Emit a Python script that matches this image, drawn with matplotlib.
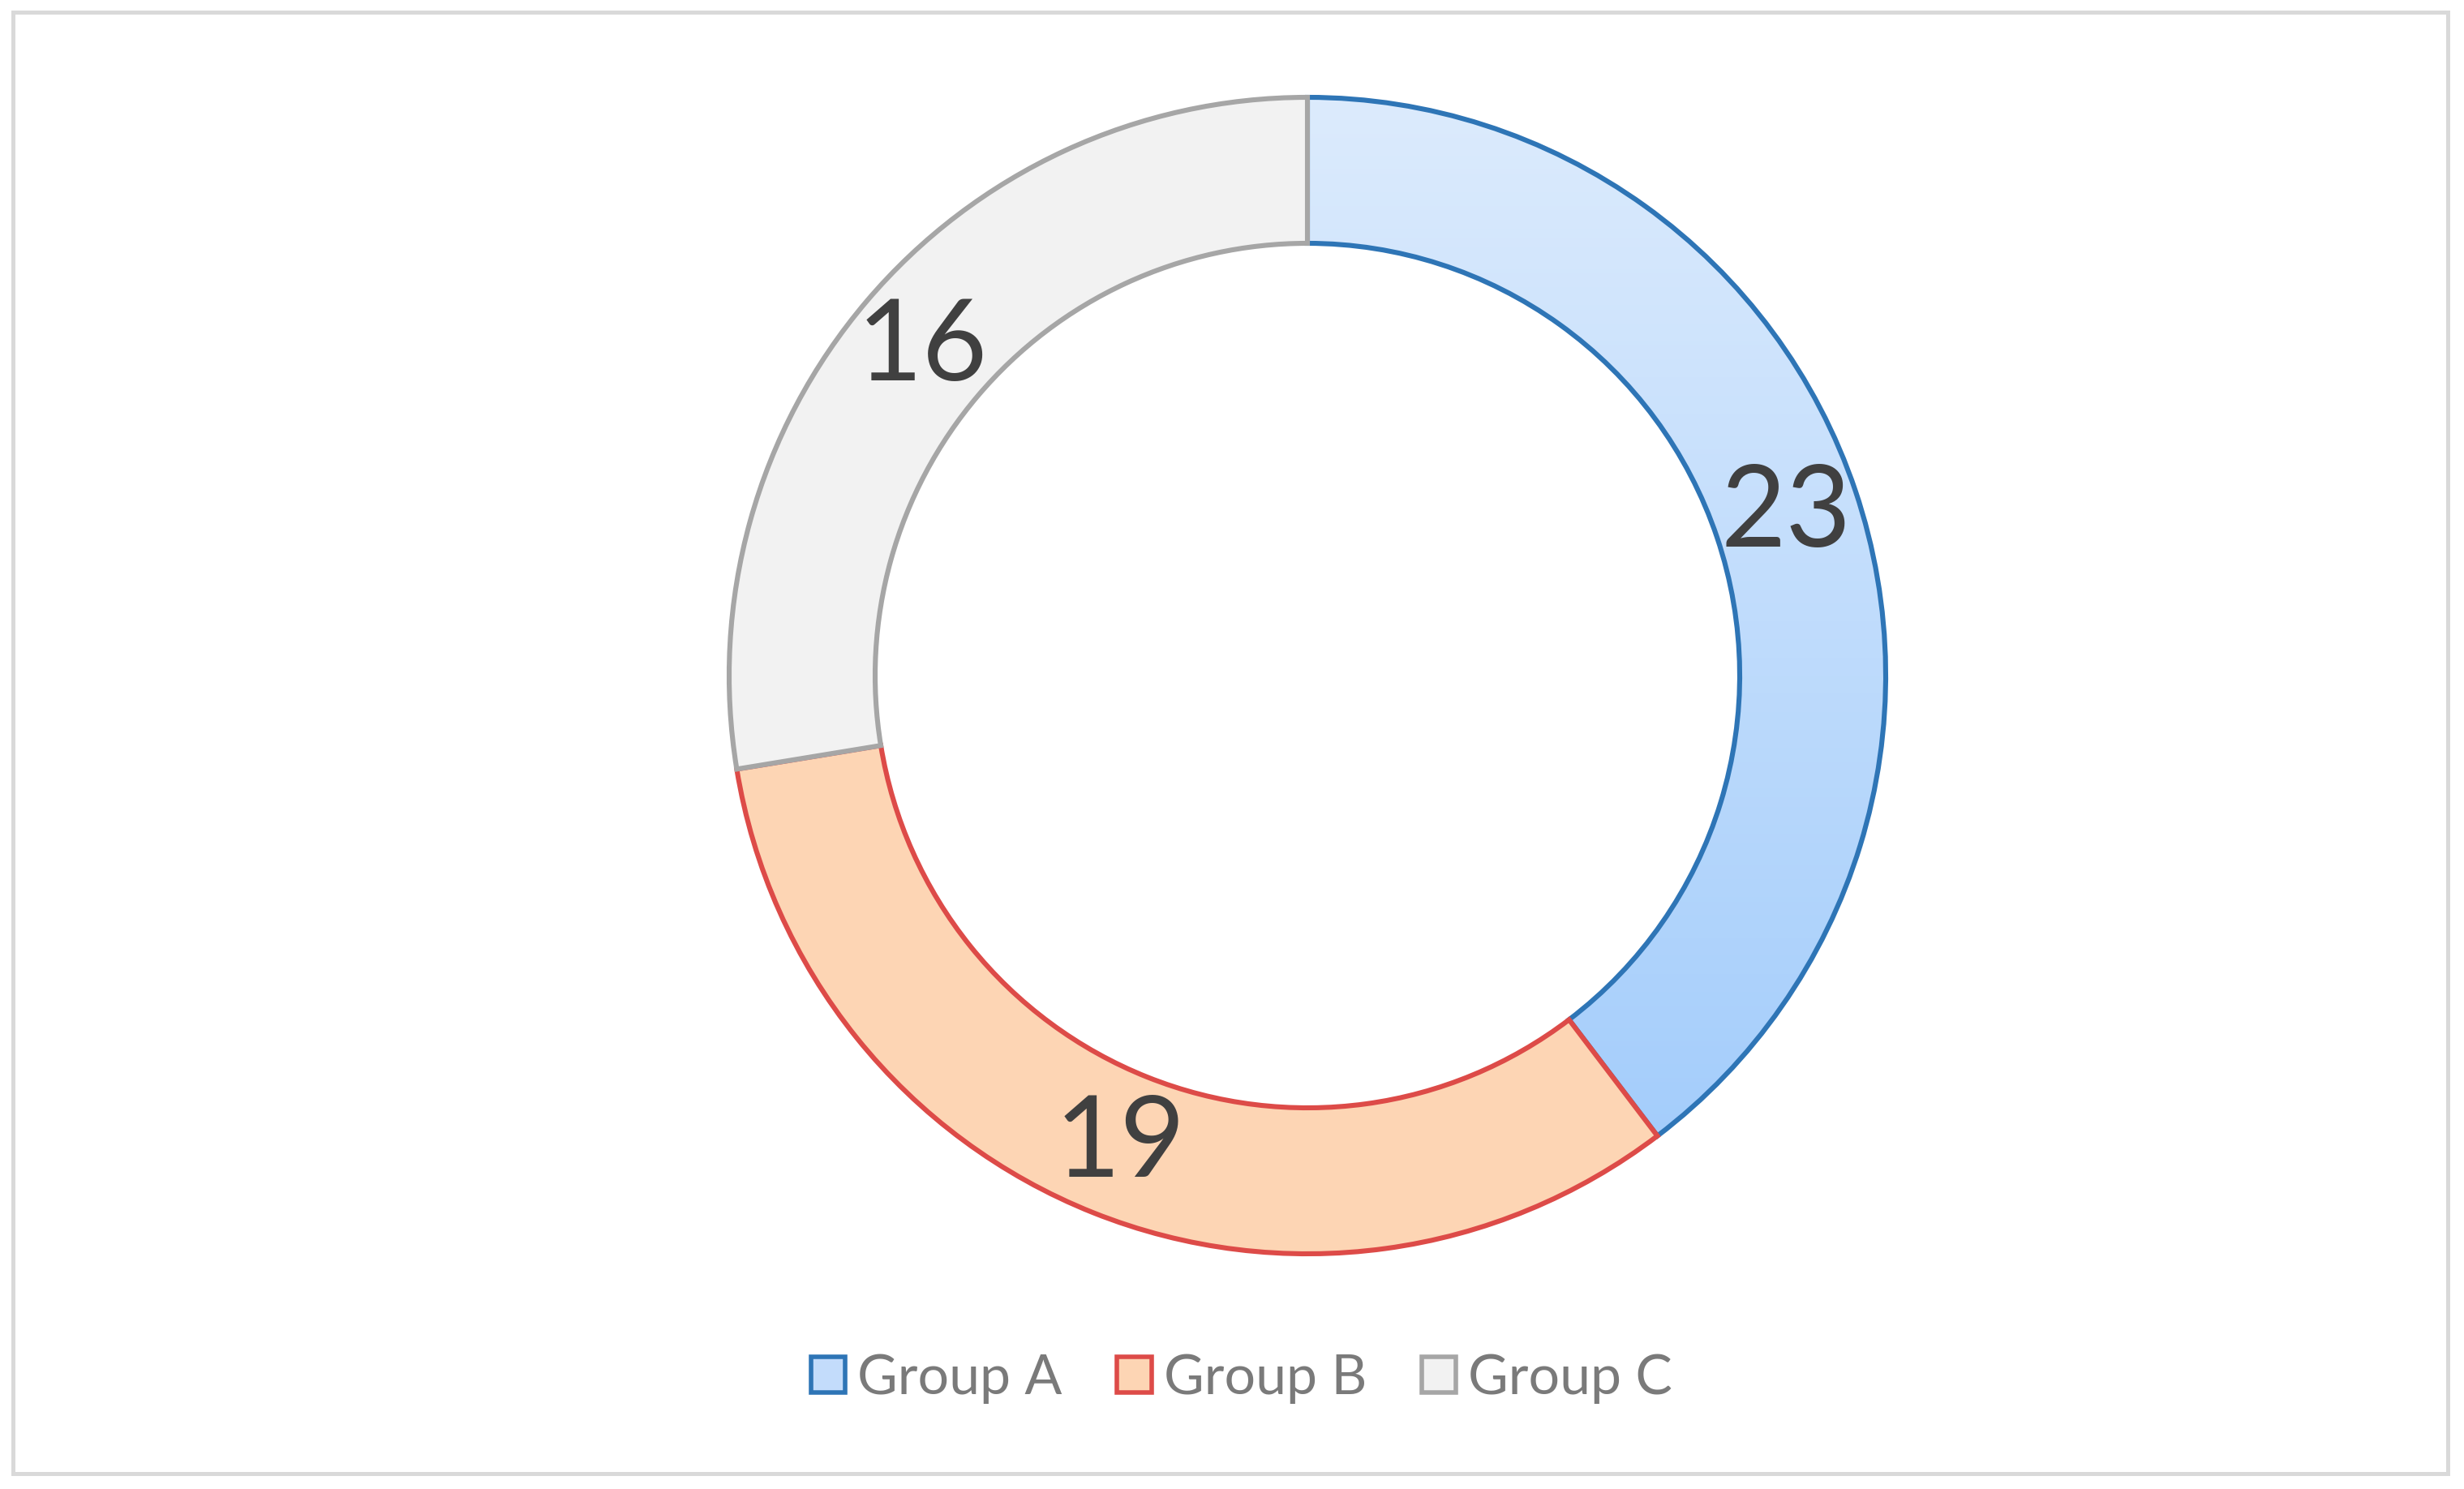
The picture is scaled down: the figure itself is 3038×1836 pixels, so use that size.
import numpy as np
import matplotlib
matplotlib.use("Agg")
import matplotlib.pyplot as plt
from matplotlib.patches import Patch, Rectangle
from matplotlib.colors import LinearSegmentedColormap

# ---- data ----
categories = ["Group A", "Group B", "Group C"]
values = [23, 19, 16]

# ---- styles ----
face_colors = ["#cfe3fc", "#fdd5b4", "#f2f2f2"]
edge_colors = ["#2e75b6", "#dd4b48", "#a6a6a6"]
label_color = "#404040"
legend_color = "#7a7a7a"

W, H = 3038, 1836
DPI = 200
plt.rcParams['font.family'] = ['Lato', 'DejaVu Sans']

fig = plt.figure(figsize=(W / DPI, H / DPI), dpi=DPI)
ax = fig.add_axes([0, 0, 1, 1])

cx, cy = 1612, H - 833
R_out, R_in = 713, 533
ring = R_out - R_in

wedges, _ = ax.pie(values, radius=R_out, center=(cx, cy), startangle=90,
                   counterclock=False,
                   wedgeprops=dict(width=ring, linewidth=2.2),
                   colors=face_colors)
for w, ec in zip(wedges, edge_colors):
    w.set_edgecolor(ec)
    w.set_zorder(3)

# gradient fill for Group A
wa = wedges[0]
wa.set_facecolor("none")
cmap = LinearSegmentedColormap.from_list("ga", ["#dcebfd", "#9ecafb"])
grad = np.linspace(0, 1, 256).reshape(-1, 1)
im = ax.imshow(grad, cmap=cmap, aspect='auto', origin='upper',
               extent=(cx - R_out, cx + R_out, cy - R_out, cy + R_out), zorder=2)
im.set_clip_path(wa)

# value labels at wedge centers
r_mid = R_out - ring / 2
for w, v in zip(wedges, values):
    ang = np.deg2rad((w.theta1 + w.theta2) / 2)
    ax.text(cx + r_mid * np.cos(ang), cy + r_mid * np.sin(ang), str(v),
            ha='center', va='center', fontsize=50, color=label_color, zorder=5)

ax.set_xlim(0, W)
ax.set_ylim(0, H)
ax.set_aspect('equal')
ax.axis('off')

# legend
handles = [Patch(facecolor=fc if i else "#c3dcfb", edgecolor=ec, linewidth=2.0, label=c)
           for i, (c, fc, ec) in enumerate(zip(categories, face_colors, edge_colors))]
leg = fig.legend(handles=handles, loc='center', bbox_to_anchor=(1531 / W, 1 - 1700 / H),
                 ncol=3, frameon=False, fontsize=24.5, handlelength=0.62, handleheight=0.62,
                 handletextpad=0.22, columnspacing=1.0, labelcolor=legend_color)

# chart border
fig.patches.append(Rectangle((16 / W, 1 - 1817 / H), (3018 - 16) / W, (1817 - 15) / H,
                             transform=fig.transFigure, fill=False,
                             edgecolor="#d9d9d9", linewidth=1.8))

fig.savefig("out.png", dpi=DPI, facecolor="white")
